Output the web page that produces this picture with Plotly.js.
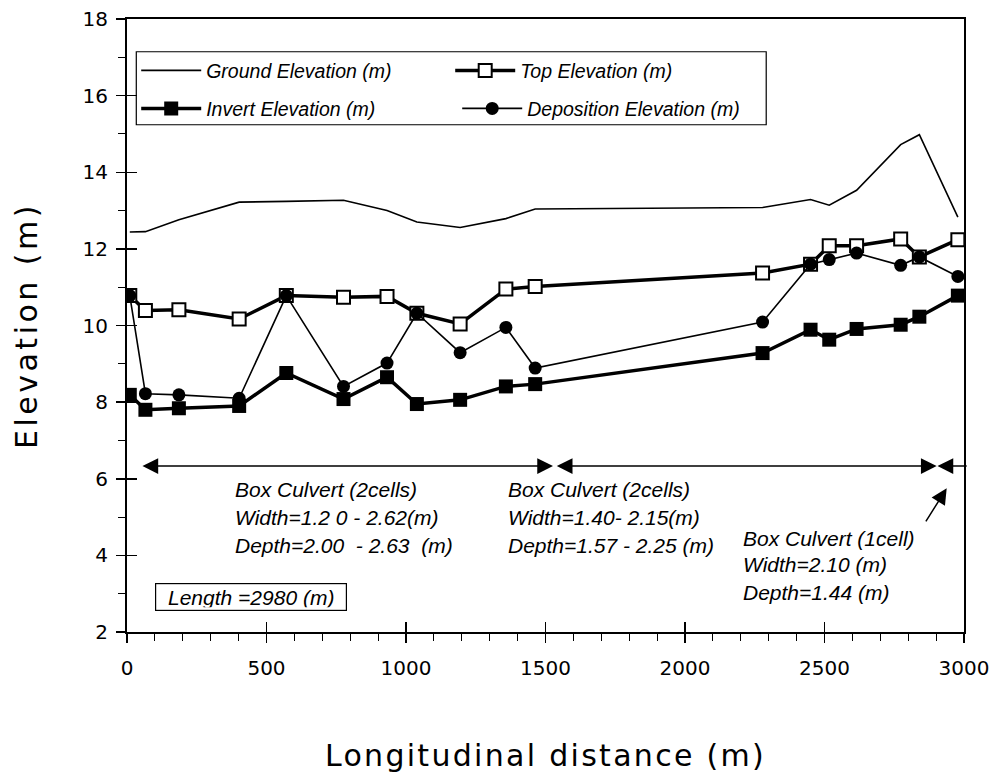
<!DOCTYPE html>
<html>
<head>
<meta charset="utf-8">
<script src="https://cdn.plot.ly/plotly-3.0.1.min.js"></script>
<style>
body{margin:0;padding:0;background:#fff;}
.xtitle{letter-spacing:2.3px;}
.ytitle{letter-spacing:3.5px;}
</style>
</head>
<body>
<div id="chart" style="width:1003px;height:778px;"></div>
<script>
// Stations along the culvert (m)
var distance = [10, 66, 186, 402, 571, 776, 932, 1039, 1194, 1358, 1463, 2278, 2450, 2517, 2615, 2773, 2840, 2978];
var groundElev = [12.44, 12.45, 12.76, 13.22, 13.24, 13.27, 13.00, 12.70, 12.56, 12.79, 13.04, 13.08, 13.29, 13.14, 13.53, 14.72, 14.98, 12.83];
var topElev = [10.78, 10.39, 10.41, 10.17, 10.78, 10.74, 10.76, 10.32, 10.04, 10.95, 11.02, 11.37, 11.60, 12.08, 12.08, 12.26, 11.79, 12.24];
var invertElev = [8.19, 7.80, 7.84, 7.90, 8.76, 8.08, 8.65, 7.95, 8.06, 8.41, 8.47, 9.28, 9.89, 9.63, 9.91, 10.02, 10.23, 10.78];
var depositionElev = [10.78, 8.22, 8.19, 8.10, 10.78, 8.41, 9.02, 10.32, 9.29, 9.95, 8.89, 10.09, 11.60, 11.72, 11.89, 11.57, 11.79, 11.28];

var seriesNames = ['Ground Elevation (m)', 'Top Elevation (m)', 'Invert Elevation (m)', 'Deposition Elevation (m)'];
var xTickVals = [0, 500, 1000, 1500, 2000, 2500, 3000];
var yTickVals = [2, 4, 6, 8, 10, 12, 14, 16, 18];

var traces = [
  {x: distance, y: groundElev, name: seriesNames[0], mode: 'lines', type: 'scatter', legend: 'legend',
   line: {color: '#000', width: 1.6}},
  {x: distance, y: topElev, name: seriesNames[1], mode: 'lines+markers', type: 'scatter', legend: 'legend',
   line: {color: '#000', width: 3.5},
   marker: {symbol: 'square', size: 13, color: '#fff', line: {color: '#000', width: 2}}},
  {x: distance, y: invertElev, name: seriesNames[2], mode: 'lines+markers', type: 'scatter', legend: 'legend2',
   line: {color: '#000', width: 3.5},
   marker: {symbol: 'square', size: 14, color: '#000'}},
  {x: distance, y: depositionElev, name: seriesNames[3], mode: 'lines+markers', type: 'scatter', legend: 'legend2',
   line: {color: '#000', width: 1.6},
   marker: {symbol: 'circle', size: 13, color: '#000'}},
  // empty trace only to activate the overlay axes used for the inner half of the major ticks
  {x: [], y: [], xaxis: 'x2', yaxis: 'y2', type: 'scatter', mode: 'lines', showlegend: false, hoverinfo: 'skip'}
];

var italic = {family: 'Liberation Sans, Arial, sans-serif', size: 21, color: '#000', style: 'italic'};
var legFont = {family: 'Liberation Sans, Arial, sans-serif', size: 19.5, color: '#000', style: 'italic'};
var arrowY = 6.33;
function txt(x, y, t) {
  return {x: x, y: y, xref: 'x', yref: 'y', text: t, showarrow: false,
          xanchor: 'left', yanchor: 'middle', font: italic};
}
function arrow(x, ax, y, ay, side) {
  return {x: x, y: y, ax: ax, ay: ay, xref: 'x', yref: 'y', axref: 'x', ayref: 'y',
          text: '', showarrow: true, arrowhead: 2, arrowsize: 2.1, arrowwidth: 1.5,
          arrowcolor: '#000', arrowside: side, standoff: 0, startstandoff: 0};
}

var annotations = [
  arrow(1527, 50, arrowY, arrowY, 'end+start'),
  arrow(2902, 1535, arrowY, arrowY, 'end+start'),
  arrow(2905, 3015, arrowY, arrowY, 'end'),
  arrow(2938, 2860, 5.75, 4.85, 'end'),
  txt(380, 5.71, 'Box Culvert (2cells)'),
  txt(380, 5.00, 'Width=1.2 0 - 2.62(m)'),
  txt(380, 4.27, 'Depth=2.00\u00a0 - 2.63\u00a0 (m)'),
  txt(1359, 5.71, 'Box Culvert (2cells)'),
  txt(1359, 5.00, 'Width=1.40- 2.15(m)'),
  txt(1359, 4.27, 'Depth=1.57 - 2.25 (m)'),
  txt(2200, 4.45, 'Box Culvert (1cell)'),
  txt(2200, 3.75, 'Width=2.10 (m)'),
  txt(2200, 3.04, 'Depth=1.44 (m)'),
  {x: 101, y: 2.91, xref: 'x', yref: 'y', text: 'Length =2980 (m)', showarrow: false,
   xanchor: 'left', yanchor: 'middle', font: italic, bordercolor: '#000', borderwidth: 1.2,
   borderpad: 3, width: 184, height: 20, align: 'center', bgcolor: '#fff'}
];

var tickFont = {family: 'DejaVu Sans, sans-serif', size: 20, color: '#000'};
var titleFont = {family: 'DejaVu Sans, sans-serif', size: 30, color: '#000'};

function legendAt(y, ew) {
  return {x: 0.011, y: y, xanchor: 'left', yanchor: 'middle', orientation: 'h',
          entrywidth: ew, entrywidthmode: 'pixels', itemwidth: 60,
          borderwidth: 0, bgcolor: 'rgba(0,0,0,0)', font: legFont, traceorder: 'normal'};
}

var layout = {
  width: 1003, height: 778, autosize: false,
  margin: {l: 127, r: 39, t: 19, b: 146},
  paper_bgcolor: '#fff', plot_bgcolor: '#fff',
  showlegend: true,
  legend: legendAt(0.9156, 239),
  legend2: legendAt(0.8536, 246),
  shapes: [{type: 'rect', xref: 'paper', yref: 'paper', x0: 0.0111, x1: 0.7637, y0: 0.8275, y1: 0.9466,
            line: {color: '#000', width: 1.2}, fillcolor: '#fff', layer: 'below'}],
  xaxis: {range: [0, 3000], tickvals: xTickVals, ticks: 'outside', ticklen: 9, tickwidth: 1.5,
          tickcolor: '#000', showline: true, linewidth: 2, linecolor: '#000', mirror: true,
          showgrid: false, zeroline: false, tickfont: tickFont, ticklabelstandoff: 8,
          minor: {dtick: 100, ticks: 'outside', ticklen: 7, tickwidth: 1, tickcolor: '#000', showgrid: false},
          title: {text: 'Longitudinal distance (m)', font: titleFont, standoff: 66}},
  yaxis: {range: [2, 18], tickvals: yTickVals, ticks: 'outside', ticklen: 9, tickwidth: 1.5,
          tickcolor: '#000', showline: true, linewidth: 2, linecolor: '#000', mirror: true,
          showgrid: false, zeroline: false, tickfont: tickFont, ticklabelstandoff: 4,
          minor: {dtick: 1, ticks: 'outside', ticklen: 7, tickwidth: 1, tickcolor: '#000', showgrid: false},
          title: {text: 'Elevation (m)', font: titleFont, standoff: 36}},
  xaxis2: {overlaying: 'x', anchor: 'y2', range: [0, 3000], tickvals: xTickVals, ticks: 'inside', ticklen: 10,
           tickwidth: 1.5, tickcolor: '#000', showticklabels: false, showline: false, showgrid: false, zeroline: false},
  yaxis2: {overlaying: 'y', anchor: 'x2', range: [2, 18], tickvals: yTickVals, ticks: 'inside', ticklen: 10,
           tickwidth: 1.5, tickcolor: '#000', showticklabels: false, showline: false, showgrid: false, zeroline: false},
  annotations: annotations
};

Plotly.newPlot('chart', traces, layout, {displayModeBar: false, staticPlot: true});
</script>
</body>
</html>
